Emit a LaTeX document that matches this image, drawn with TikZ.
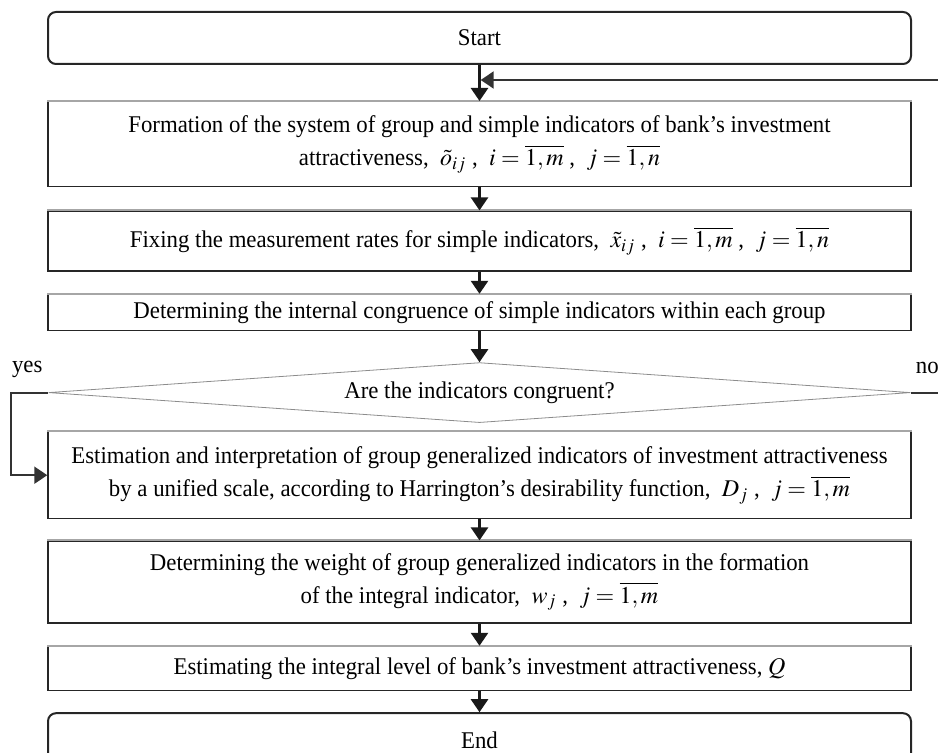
\documentclass[tikz,border=0pt]{standalone}
\usepackage{mathptmx}
\usepackage{fontspec}
\setmainfont[FakeStretch=0.95]{Liberation Serif}
\usepackage{tikz}
\usetikzlibrary{positioning,arrows.meta,shapes.geometric}

\begin{document}
\begin{tikzpicture}[
  font=\fontsize{12}{16.5}\selectfont,
  node distance=11pt,
  term/.style={
    rectangle, rounded corners=4pt,
    draw=black!85, line width=1pt,
    minimum width=431.5pt, minimum height=26pt, align=center
  },
  proc/.style={
    rectangle, draw=black!85, line width=0.7pt,
    minimum width=431.5pt, inner sep=2pt, align=center
  },
  cond/.style={
    diamond, draw=black!45, line width=0.4pt,
    minimum width=431pt, minimum height=30pt, inner sep=0pt, aspect=14
  },
  topline/.style={draw=black!35, line width=0.9pt},
  arr/.style={-{Triangle[length=6.5pt 0,width=8.5pt 0]}, line width=1.3pt, draw=black!90},
  fb/.style={-{Triangle[length=6.5pt 0,width=8.5pt 0]}, line width=1pt, draw=black!80},
  lbl/.style={inner sep=1pt}
]
\useasboundingbox (0,0) rectangle (469pt,-376.5pt);

\node[term] (start) at (239.75pt,-19pt) {Start};
\node[proc, minimum height=42.5pt, below=18pt of start] (form)
  {Formation of the system of group and simple indicators of bank's investment\\
   attractiveness,\ \ $\tilde{o}_{ij}$\ ,\ \ $i=\overline{1,m}$\ ,\ \ $j=\overline{1,n}$};
\node[proc, minimum height=30pt, below=11.5pt of form] (fix)
  {Fixing the measurement rates for simple indicators,\ \ $\tilde{x}_{ij}$\ ,\ \ $i=\overline{1,m}$\ ,\ \ $j=\overline{1,n}$};
\node[proc, minimum height=18pt, below=of fix] (cong)
  {Determining the internal congruence of simple indicators within each group};
\node[cond, below=15.5pt of cong] (dec) {Are the indicators congruent?};
\node[proc, minimum height=43.5pt, below=4pt of dec] (est)
  {Estimation and interpretation of group generalized indicators of investment attractiveness\\
   by a unified scale, according to Harrington's desirability function,\ \ $D_j$\ ,\ \ $j=\overline{1,m}$};
\node[proc, minimum height=41pt, below=10.5pt of est] (wgt)
  {Determining the weight of group generalized indicators in the formation\\
   of the integral indicator,\ \ $w_j$\ ,\ \ $j=\overline{1,m}$};
\node[proc, minimum height=22pt, below=of wgt] (lvl)
  {Estimating the integral level of bank's investment attractiveness,\ $Q$};
\node[term, minimum height=27pt, below=10.5pt of lvl] (end) {End};

\coordinate[below=7.5pt of start] (join);

% lighter top edges
\foreach \n in {form,fix,cong,est,wgt,lvl}
  \draw[topline] (\n.north west) -- (\n.north east);

\draw[arr] (start) -- (form);
\draw[arr] (form) -- (fix);
\draw[arr] (fix) -- (cong);
\draw[arr] (cong) -- (dec);
\draw[arr] (est) -- (wgt);
\draw[arr] (wgt) -- (lvl);
\draw[arr] (lvl) -- (end);

\draw[fb] (dec.west) -- ++(-18.5pt,0) node[lbl, above right=6pt and -1pt] {yes} |- (est.west);
\draw[fb, shorten >=0.6pt] (dec.east) -- ++(2pt,0) node[lbl, above right=8pt and -1pt] {no}
  -- ++(30pt,0) |- (join);

\end{tikzpicture}
\end{document}
